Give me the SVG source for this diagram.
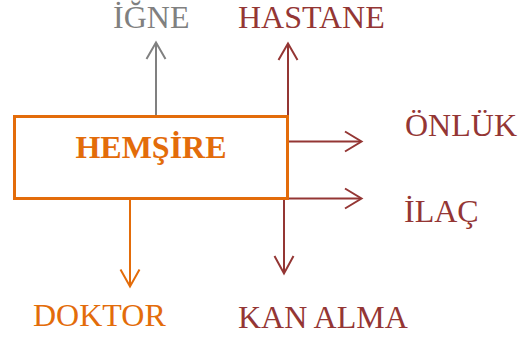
<svg xmlns="http://www.w3.org/2000/svg" width="520" height="337" viewBox="0 0 520 337">
<style>
.t{font-family:"Liberation Serif","Times New Roman",serif;font-size:32px}
.red{fill:#943634}
.org{fill:#E36C0A}
.gry{fill:#808080}
.ln{fill:none;stroke-width:2}
</style>
<rect width="520" height="337" fill="#fff"/>
<g id="connectors">
<g stroke="#808080" class="ln"><path d="M156,116V43"/><path d="M146.5,59L156,42.5L165.5,59"/></g>
<g stroke="#943634" class="ln">
<path d="M288,116V43"/><path d="M278.5,60L288,43.5L297.5,60"/>
<path d="M289,141.5H361"/><path d="M345,131.5L361.5,141.5L345,151.5"/>
<path d="M289,198.5H361"/><path d="M345,188.5L361.5,198.5L345,208.5"/>
<path d="M284,200V273"/><path d="M274.5,256L284,273.5L293.5,256"/>
</g>
<g stroke="#E36C0A" class="ln"><path d="M130,200V286"/><path d="M120.5,269.5L130,286.5L139.5,269.5"/></g>
</g>
<g id="hemsire">
<rect x="14.5" y="116.5" width="273" height="82" fill="none" stroke="#E36C0A" stroke-width="3"/>
<text x="151" y="158" text-anchor="middle" class="t org" font-weight="bold" font-size="31">HEMŞİRE</text>
</g>
<g id="igne"><text x="113" y="28" class="t gry">İĞNE</text></g>
<g id="hastane"><text x="238" y="28" class="t red">HASTANE</text></g>
<g id="onluk"><text x="405" y="136" class="t red">ÖNLÜK</text></g>
<g id="ilac"><text x="404" y="222" class="t red">İLAÇ</text></g>
<g id="doktor"><text x="33" y="326" class="t org">DOKTOR</text></g>
<g id="kanalma"><text x="238" y="328" class="t red">KAN ALMA</text></g>
</svg>
